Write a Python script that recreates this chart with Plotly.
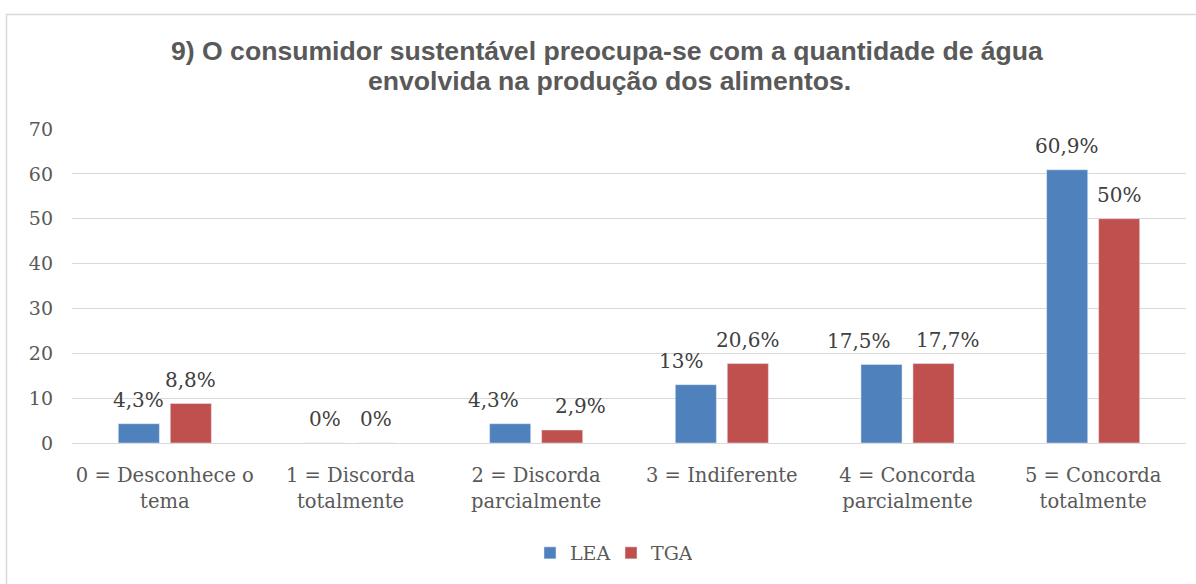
import plotly.graph_objects as go

categories = ["0 = Desconhece o<br>tema", "1 = Discorda<br>totalmente", "2 = Discorda<br>parcialmente",
              "3 = Indiferente", "4 = Concorda<br>parcialmente", "5 = Concorda<br>totalmente"]
lea_values = [4.3, 0, 4.3, 13, 17.5, 60.9]
tga_values = [8.8, 0, 2.9, 17.7, 17.7, 50]
lea_labels = ["4,3%", "0%", "4,3%", "13%", "17,5%", "60,9%"]
tga_labels = ["8,8%", "0%", "2,9%", "20,6%", "17,7%", "50%"]
y_ticks = [0, 10, 20, 30, 40, 50, 60, 70]
title_lines = ["9) O consumidor sustentável preocupa-se com a quantidade de água",
               "envolvida na produção dos alimentos."]

# label nudges (px) used by the original chart to keep labels apart
lea_label_dx = [0, 0, -17, -15, -23, 0]
tga_label_dx = [0, 0, 18, 0, 15, 0]

W, H = 1196, 584
L, R, T, B = 72, 10, 129, 141
pw, ph = W - L - R, H - T - B
BARGAP, GROUPGAP = 0.44, 0.21

serif = "DejaVu Serif"
sans = "Liberation Sans"
series = [("LEA", lea_values, lea_labels, lea_label_dx, "#4F81BD"),
          ("TGA", tga_values, tga_labels, tga_label_dx, "#C0504D")]


def px_x(p):
    return (p - L) / pw


def px_y(p):
    return (H - B - p) / ph


fig = go.Figure()
for name, vals, _, _, color in series:
    fig.add_trace(go.Bar(name=name, x=categories, y=vals, marker=dict(color=color),
                         hoverinfo="x+y"))

# data labels
slot = pw / len(categories) * (1 - BARGAP) / len(series)
for i, (name, vals, labels, dxs, _) in enumerate(series):
    center_off = (i - (len(series) - 1) / 2) * slot
    for cat, v, lab, dx in zip(categories, vals, labels, dxs):
        fig.add_annotation(x=cat, y=v, text=lab, showarrow=False, xref="x", yref="y",
                           xanchor="center", yanchor="middle", xshift=center_off + dx, yshift=24,
                           font=dict(family=serif, size=20, color="#404040"))

fig.add_shape(type="rect", xref="paper", yref="paper",
              x0=px_x(6.5), x1=px_x(1210), y0=px_y(14.5), y1=px_y(600),
              line=dict(color="#D9D9D9", width=1.5), fillcolor="rgba(0,0,0,0)", layer="below")

for line, (cx, cy) in zip(title_lines, [(607, 51), (609, 81)]):
    fig.add_annotation(text="<b>%s</b>" % line, xref="paper", yref="paper",
                       x=px_x(cx), y=px_y(cy), xanchor="center", yanchor="middle",
                       showarrow=False, font=dict(family=sans, size=26.6, color="#595959"))

fig.update_layout(
    width=W, height=H,
    margin=dict(l=L, r=R, t=T, b=B),
    paper_bgcolor="white", plot_bgcolor="white",
    barmode="group", bargap=BARGAP, bargroupgap=GROUPGAP,
    xaxis=dict(showline=True, linecolor="#D9D9D9", linewidth=1, ticks="",
               tickfont=dict(family=serif, size=19.5, color="#595959"), ticklabelstandoff=15),
    yaxis=dict(range=[0, 70], tickvals=y_ticks, showgrid=True, gridcolor="#D9D9D9", gridwidth=1,
               zeroline=False, showline=False, ticks="",
               tickfont=dict(family=serif, size=19, color="#595959"), ticklabelstandoff=18),
    showlegend=True,
    legend=dict(orientation="h", x=px_x(530), xanchor="left", y=px_y(553), yanchor="middle",
                font=dict(family=serif, size=19, color="#595959"), itemwidth=30,
                entrywidth=36, entrywidthmode="pixels"),
)

fig.write_html("out.html", post_script="document.body.style.margin='0';",
               config={"displayModeBar": False})
